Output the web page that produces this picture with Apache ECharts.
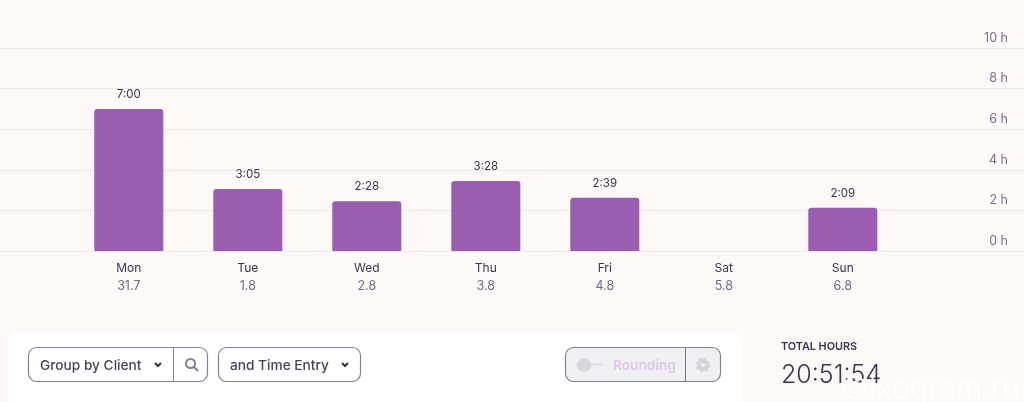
<!DOCTYPE html>
<html><head><meta charset="utf-8">
<style>html,body{margin:0;padding:0;background:#fef8f6}#c{width:1024px;height:402px}</style>
<script src="https://cdn.jsdelivr.net/npm/echarts@6/dist/echarts.min.js"></script>
</head><body><div id="c"></div>
<script>
const days = ['Mon','Tue','Wed','Thu','Fri','Sat','Sun'];
const dates = ['31.7','1.8','2.8','3.8','4.8','5.8','6.8'];
const hours = [7.0, 3.05, 2.45, 3.45, 2.62, null, 2.13];
const timeLabels = ['7:00','3:05','2:28','3:28','2:39','','2:09'];
const yTicks = [0,2,4,6,8,10];

const F = 'Inter, "Noto Sans", sans-serif';
const EDGE = '#8d7a99';
const pill = (x,y,w,h,fill,stroke) => ({type:'rect',shape:{x,y,width:w,height:h,r:8},style:{fill,stroke,lineWidth:1.2}});
const vline = (x,y1,y2,stroke) => ({type:'line',shape:{x1:x,y1,x2:x,y2},style:{stroke,lineWidth:1}});
const txt = (x,y,text,size,fill,weight) => ({type:'text',x,y,style:{text,font:`${weight||400} ${size}px ${F}`,fill,textVerticalAlign:'middle',textAlign:'left'}});
const chev = (x,y) => ({type:'polyline',shape:{points:[[x-3,y-1.5],[x,y+1.5],[x+3,y-1.5]]},style:{stroke:'#3a2f48',lineWidth:2,fill:null}});

const chart = echarts.init(document.getElementById('c'), null, {renderer:'canvas'});
chart.setOption({
  animation:false,
  backgroundColor:'#fef8f6',
  grid:[
    {left:0,right:0,top:48,height:203},
    {left:69.3,width:833,top:48,height:203}
  ],
  xAxis:[
    {gridIndex:0,type:'value',min:0,max:1,show:false},
    {gridIndex:1,type:'category',data:days,axisLine:{show:false},axisTick:{show:false},
     axisLabel:{margin:8,interval:0,lineHeight:18,
       formatter:(v,i)=>`{d|${v}}\n{n|${dates[i]}}`,
       rich:{d:{fontFamily:F,fontSize:12,color:'#3d3250',lineHeight:18},
             n:{fontFamily:F,fontSize:12.5,color:'#75688a',lineHeight:18}}}}
  ],
  yAxis:[
    {gridIndex:0,type:'value',min:0,max:10,interval:2,position:'right',
     axisLine:{show:false},axisTick:{show:false},
     axisLabel:{inside:true,margin:16,align:'right',verticalAlign:'bottom',padding:[0,0,3.5,0],
       fontFamily:F,fontSize:12.5,color:'#7d6c90',
       formatter:v=>yTicks.includes(v)?v+' h':''},
     splitLine:{show:true,lineStyle:{color:'#f1e8ee',width:1}}},
    {gridIndex:1,type:'value',min:0,max:10,interval:2,show:false}
  ],
  series:[{
    type:'bar',xAxisIndex:1,yAxisIndex:1,data:hours,barWidth:69,
    itemStyle:{color:'#9a5db0',borderRadius:[3,3,0,0]},
    label:{show:true,position:'top',distance:8.5,fontFamily:F,fontSize:11.5,color:'#3d3250',
      formatter:p=>timeLabels[p.dataIndex]}
  }],
  graphic:[
    {type:'rect',shape:{x:8,y:332,width:733,height:90,r:8},style:{fill:'#ffffff'}},
    pill(28.5,347.5,179,34,'#fff',EDGE),
    vline(173.5,348,381,EDGE),
    txt(40,366,'Group by Client',13.7,'#4a3f5c',500),
    chev(158,364.5),
    {type:'circle',shape:{cx:190.5,cy:363.5,r:4.5},style:{fill:null,stroke:'#857b8e',lineWidth:2}},
    {type:'line',shape:{x1:194,y1:367,x2:198,y2:371},style:{stroke:'#857b8e',lineWidth:2}},
    pill(218.5,347.5,142,34,'#fff',EDGE),
    txt(230,366,'and Time Entry',13.7,'#4a3f5c',500),
    chev(345,364.5),
    pill(565.5,347.5,155,34,'#f0eff2',EDGE),
    vline(685.5,348,381,'#7a6a85'),
    {type:'circle',shape:{cx:584,cy:365,r:7},style:{fill:'#d9d7dc'}},
    {type:'line',shape:{x1:590,y1:364.5,x2:603,y2:364.5},style:{stroke:'#d9d7dc',lineWidth:1.5}},
    txt(613,366,'Rounding',13.7,'#ddc9e6',600),
    {type:'circle',shape:{cx:703,cy:365,r:4},style:{fill:null,stroke:'#d4d2d8',lineWidth:4}},
    {type:'circle',shape:{cx:703,cy:365,r:6.5},style:{fill:null,stroke:'#d4d2d8',lineWidth:2,lineDash:[2.5,2.6]}},
    txt(781,347,'TOTAL HOURS',10.8,'#3d3250',600),
    txt(781,375.5,'20:51:54',25,'#3d3250',300),
    {type:'text',x:841,y:390,style:{text:'©ixogram.ru',font:`300 30.5px ${F}`,fill:'#ffffff',textVerticalAlign:'middle'}}
  ]
});
</script></body></html>
